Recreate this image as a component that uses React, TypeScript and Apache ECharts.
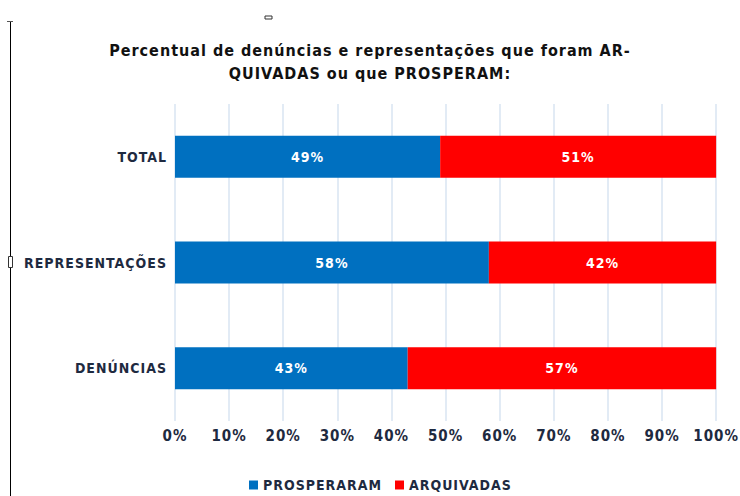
import React, { useEffect, useRef } from "react";
import * as echarts from "echarts";

const categories = ["DENÚNCIAS", "REPRESENTAÇÕES", "TOTAL"];
const prosperaram = [43, 58, 49];
const arquivadas = [57, 42, 51];
const xTicks = [0, 10, 20, 30, 40, 50, 60, 70, 80, 90, 100];
const titleText = "Percentual de denúncias e representações que foram AR-\nQUIVADAS ou que PROSPERAM:";

const FONT = "'DejaVu Sans Condensed', 'DejaVu Sans', sans-serif";
const INK = "#1e2a40";

export default function App() {
  const ref = useRef<HTMLDivElement>(null);
  useEffect(() => {
    if (!ref.current) return;
    const chart = echarts.init(ref.current, null, { renderer: "svg" });
    chart.setOption({
      animation: false,
      backgroundColor: "#ffffff",
      title: {
        text: titleText,
        left: "center",
        top: 34,
        textStyle: {
          fontFamily: FONT,
          fontWeight: "bold",
          fontSize: 16,
          lineHeight: 23,
          color: "#111111",
        },
      },
      legend: {
        data: ["PROSPERARAM", "ARQUIVADAS"],
        top: 473,
        left: 244,
        icon: "rect",
        itemWidth: 9,
        itemHeight: 9,
        itemGap: 24,
        textStyle: {
          fontFamily: FONT,
          fontWeight: "bold",
          fontSize: 14,
          color: INK,
        },
      },
      grid: { left: 175, right: 20, top: 104, bottom: 75, containLabel: false },
      xAxis: {
        type: "value",
        min: xTicks[0],
        max: xTicks[xTicks.length - 1],
        interval: 10,
        axisLine: { show: false },
        axisTick: { show: false },
        splitLine: { show: true, lineStyle: { color: "#d9e5f2", width: 1.5 } },
        axisLabel: {
          formatter: "{value}%",
          margin: 7,
          fontFamily: FONT,
          fontWeight: "bold",
          fontSize: 15,
          color: INK,
        },
      },
      yAxis: {
        type: "category",
        data: categories,
        axisLine: { show: false },
        axisTick: { show: false },
        splitLine: { show: false },
        axisLabel: {
          margin: 8,
          fontFamily: FONT,
          fontWeight: "bold",
          fontSize: 14,
          color: INK,
        },
      },
      series: [
        {
          name: "PROSPERARAM",
          type: "bar",
          stack: "total",
          barWidth: 42,
          data: prosperaram,
          itemStyle: { color: "#0070c0" },
          label: {
            show: true,
            position: "inside",
            formatter: "{c}%",
            fontFamily: FONT,
            fontWeight: "bold",
            fontSize: 14,
            color: "#ffffff",
          },
        },
        {
          name: "ARQUIVADAS",
          type: "bar",
          stack: "total",
          barWidth: 42,
          data: arquivadas,
          itemStyle: { color: "#ff0000" },
          label: {
            show: true,
            position: "inside",
            formatter: "{c}%",
            fontFamily: FONT,
            fontWeight: "bold",
            fontSize: 14,
            color: "#ffffff",
          },
        },
      ],
      graphic: [
        { type: "line", shape: { x1: 10.5, y1: 21, x2: 10.5, y2: 496 }, style: { stroke: "#000000", lineWidth: 1 } },
        { type: "line", shape: { x1: 7, y1: 21.5, x2: 13, y2: 21.5 }, style: { stroke: "#555555", lineWidth: 1 } },
        { type: "rect", shape: { x: 265, y: 16, width: 7, height: 3 }, style: { fill: "#ffffff", stroke: "#333333", lineWidth: 1 } },
        { type: "rect", shape: { x: 8.5, y: 256.5, width: 4, height: 11 }, style: { fill: "#ffffff", stroke: "#333333", lineWidth: 1 } },
      ],
    });
    return () => chart.dispose();
  }, []);
  return (
    <>
      <style>{"#chart-box text { letter-spacing: 1px; }"}</style>
      <div id="chart-box" ref={ref} style={{ width: 740, height: 496, position: "absolute", left: 0, top: 0 }} />
    </>
  );
}
